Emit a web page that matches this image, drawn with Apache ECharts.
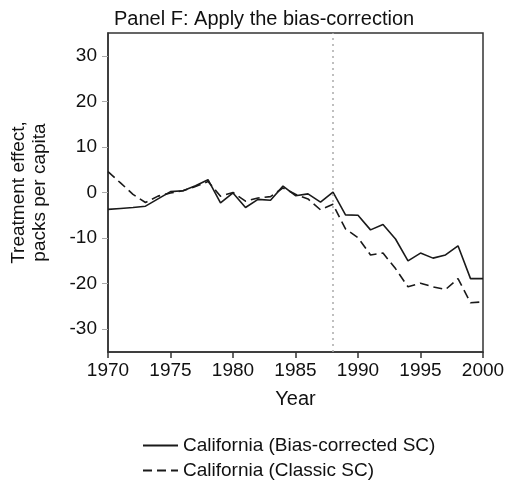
<!DOCTYPE html>
<html>
<head>
<meta charset="utf-8">
<script src="https://cdn.jsdelivr.net/npm/echarts@6/dist/echarts.min.js"></script>
<style>
  html, body { margin: 0; padding: 0; background: #fff; }
  #chart { width: 508px; height: 486px; }
</style>
</head>
<body>
<div id="chart"></div>
<script>
const years = []
for (let y = 1970; y <= 2000; y++) years.push(y)

// bias-corrected synthetic control
const biasCorrected = [
  -3.7, -3.5, -3.3, -3.0, -1.4, 0.2, 0.4, 1.5, 2.8, -2.3,
  -0.1, -3.3, -1.5, -1.7, 1.4, -0.7, -0.3, -2.1, 0.1, -4.9,
  -5.0, -8.2, -7.0, -10.2, -15.0, -13.3, -14.4, -13.7, -11.7, -18.9,
  -18.9
]
// classic synthetic control
const classic = [
  4.6, 2.1, -0.4, -2.2, -0.8, -0.1, 0.4, 1.3, 2.4, -0.8,
  0.0, -1.9, -1.2, -0.9, 1.0, -0.4, -1.4, -3.8, -2.6, -8.0,
  -9.9, -13.7, -13.3, -16.7, -20.7, -19.9, -20.7, -21.3, -18.9, -24.2,
  -24.0
]
const yTicks = [-30, -20, -10, 0, 10, 20, 30]
const treatYear = 1988

const font = 'Liberation Sans, Arial, sans-serif'
const chart = echarts.init(document.getElementById('chart'))

const option = {
  animation: false,
  textStyle: { fontFamily: font },
  title: {
    text: 'Panel F: Apply the bias-correction',
    left: 109,
    top: 4,
    textStyle: { fontSize: 20, fontWeight: 'normal', color: '#111', fontFamily: font }
  },
  grid: {
    left: 108,
    right: 25,
    top: 33,
    bottom: 134,
    show: true,
    borderColor: '#333',
    borderWidth: 1.5,
    backgroundColor: '#fff'
  },
  legend: {
    orient: 'vertical',
    left: 137,
    top: 431,
    itemWidth: 35,
    itemHeight: 10,
    itemGap: 6,
    itemStyle: { opacity: 0 },
    textStyle: { fontSize: 19, color: '#111', fontFamily: font },
    data: ['California (Bias-corrected SC)', 'California (Classic SC)']
  },
  xAxis: {
    type: 'value',
    min: 1970,
    max: 2000,
    interval: 5,
    name: 'Year',
    nameLocation: 'middle',
    nameGap: 37,
    nameTextStyle: { fontSize: 20, color: '#111' },
    splitLine: { show: false },
    axisLine: { onZero: false, lineStyle: { color: '#333', width: 1.5 } },
    axisTick: { show: true, length: 6, lineStyle: { color: '#333', width: 1.5 } },
    axisLabel: { fontSize: 19, color: '#111', margin: 9, formatter: v => String(v) }
  },
  yAxis: {
    type: 'value',
    min: -35,
    max: 35,
    name: 'Treatment effect,\npacks per capita',
    nameLocation: 'middle',
    nameGap: 58,
    nameRotate: 90,
    nameTextStyle: { fontSize: 19, color: '#111', lineHeight: 21 },
    splitLine: { show: false },
    axisLine: { show: true, onZero: false, lineStyle: { color: '#333', width: 1.5 } },
    axisTick: { show: true, length: 6, customValues: yTicks, lineStyle: { color: '#aaa' } },
    axisLabel: { fontSize: 19, color: '#111', margin: 11, customValues: yTicks }
  },
  series: [
    {
      name: 'California (Bias-corrected SC)',
      type: 'line',
      symbol: 'none',
      data: years.map((y, i) => [y, biasCorrected[i]]),
      lineStyle: { color: '#1a1a1a', width: 1.6 },
      itemStyle: { color: '#1a1a1a' },
      z: 3,
      markLine: {
        silent: true,
        symbol: 'none',
        label: { show: false },
        lineStyle: { color: '#aaa', type: [2, 4], width: 1.5 },
        data: [{ xAxis: treatYear }]
      }
    },
    {
      name: 'California (Classic SC)',
      type: 'line',
      symbol: 'none',
      data: years.map((y, i) => [y, classic[i]]),
      lineStyle: { color: '#1a1a1a', width: 1.6, type: [9, 5] },
      itemStyle: { color: '#1a1a1a' },
      z: 2
    }
  ]
}
chart.setOption(option)
</script>
</body>
</html>
